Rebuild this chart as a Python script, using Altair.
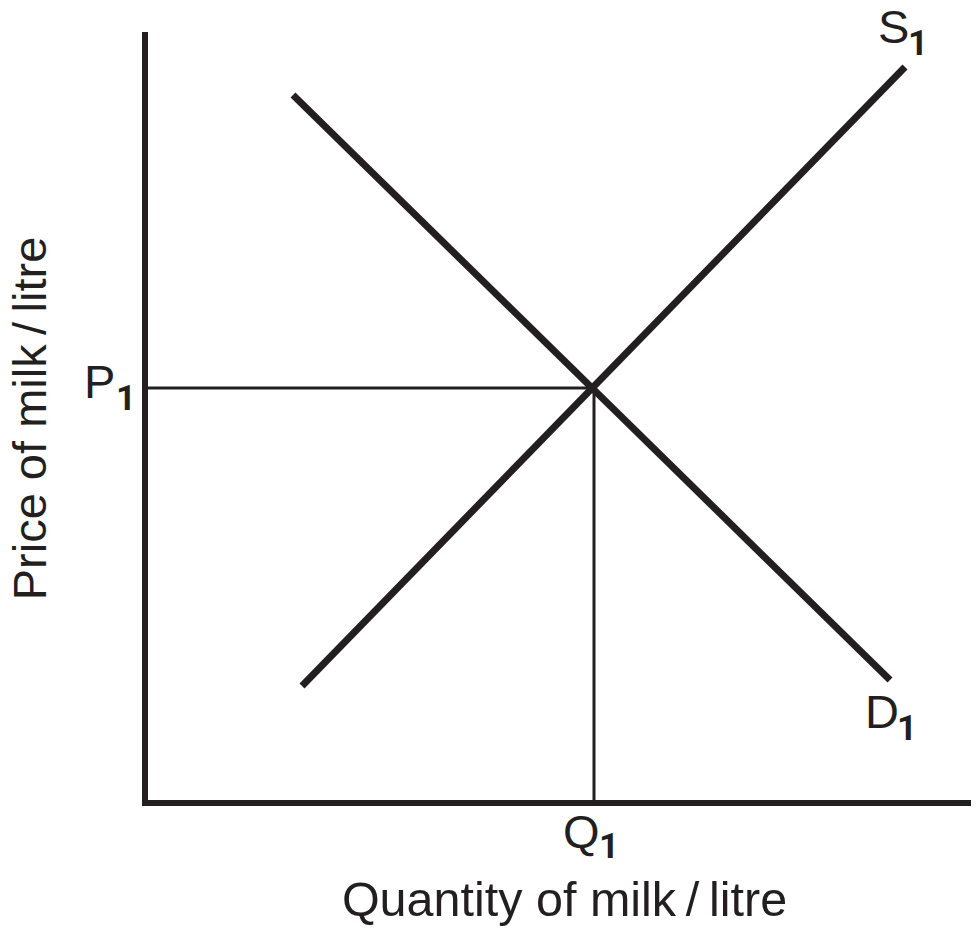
import altair as alt
import pandas as pd

# ---- data (units are arbitrary quantity / price units) ----
Q_AXIS_END = 834
P_MAX = 770
DEMAND_Q = [148, 745]
DEMAND_P = [708, 123]
SUPPLY_Q = [157, 760]
SUPPLY_P = [117, 736]
EQ_Q = 449
EQ_P = 415
CURVE_NAMES = ["D1", "S1"]
X_TITLE = "Quantity of milk\u2009/\u2009litre"
Y_TITLE = "Price of milk\u2009/\u2009litre"
MAIN_LABELS = ["S", "D", "P", "Q"]
SUB_LABELS = ["1", "1", "1", "1"]

INK = "#231f20"
FONT = "Liberation Sans"
SUB_FONT = "Roboto"
VIEW_W = 826  # keeps the page inside the 979px window (8px body margin)

curves = pd.DataFrame({
    "curve": [CURVE_NAMES[0]] * 2 + [CURVE_NAMES[1]] * 2,
    "q": DEMAND_Q + SUPPLY_Q,
    "p": DEMAND_P + SUPPLY_P,
})

xs = alt.Scale(domain=[0, VIEW_W], nice=False, zero=False)
ys = alt.Scale(domain=[0, P_MAX], nice=False, zero=False)

axes_df = pd.DataFrame({
    "q": [0, -3], "p": [-3, 0], "q2": [0, Q_AXIS_END], "p2": [P_MAX + 1, 0]
})
axes_rules = alt.Chart(axes_df).mark_rule(
    color=INK, strokeWidth=6, strokeCap="butt"
).encode(
    x=alt.X("q:Q", scale=xs, axis=alt.Axis(
        title=X_TITLE, domain=False, ticks=False, labels=False, grid=False,
        titleFont=FONT, titleFontSize=48.5, titleFontWeight="normal", titleColor=INK,
        titleX=419, titleY=112, titleBaseline="alphabetic", titleAlign="center")),
    y=alt.Y("p:Q", scale=ys, axis=alt.Axis(
        title=Y_TITLE, domain=False, ticks=False, labels=False, grid=False,
        titleFont=FONT, titleFontSize=47, titleFontWeight="normal", titleColor=INK,
        titleX=-100, titleY=385, titleAngle=270, titleBaseline="alphabetic",
        titleAlign="center")),
    x2="q2:Q", y2="p2:Q",
)

guides_df = pd.DataFrame({
    "q": [0, EQ_Q], "p": [EQ_P, 0], "q2": [EQ_Q, EQ_Q], "p2": [EQ_P, EQ_P]
})
guides = alt.Chart(guides_df).mark_rule(color=INK, strokeWidth=3).encode(
    x=alt.X("q:Q", scale=xs), y=alt.Y("p:Q", scale=ys), x2="q2:Q", y2="p2:Q"
)

lines = alt.Chart(curves).mark_line(color=INK, strokeWidth=7, strokeCap="butt").encode(
    x=alt.X("q:Q", scale=xs), y=alt.Y("p:Q", scale=ys), detail="curve:N"
)

# label anchor positions (main letter, subscript)
labels_main = pd.DataFrame({
    "t": MAIN_LABELS,
    "q": [733, 720, -61, 418],
    "p": [760, 75, 405, -45],
})
labels_sub = pd.DataFrame({
    "t": SUB_LABELS,
    "q": [763, 752, -29, 454],
    "p": [748, 63, 393, -55],
})

main_text = alt.Chart(labels_main).mark_text(
    font=FONT, fontSize=47, color=INK, align="left", baseline="alphabetic"
).encode(x=alt.X("q:Q", scale=xs), y=alt.Y("p:Q", scale=ys), text="t:N")

sub_text = alt.Chart(labels_sub).mark_text(
    font=SUB_FONT, fontSize=35, fontWeight="bold", color=INK, align="left",
    baseline="alphabetic"
).encode(x=alt.X("q:Q", scale=xs), y=alt.Y("p:Q", scale=ys), text="t:N")

chart = alt.layer(axes_rules, guides, lines, main_text, sub_text).properties(
    width=VIEW_W, height=P_MAX,
    padding={"left": 137, "top": 25, "right": 0, "bottom": 124},
    autosize="none", background="white",
).configure_view(stroke=None)

chart.save("out.html", embed_options={"renderer": "svg", "actions": False})
